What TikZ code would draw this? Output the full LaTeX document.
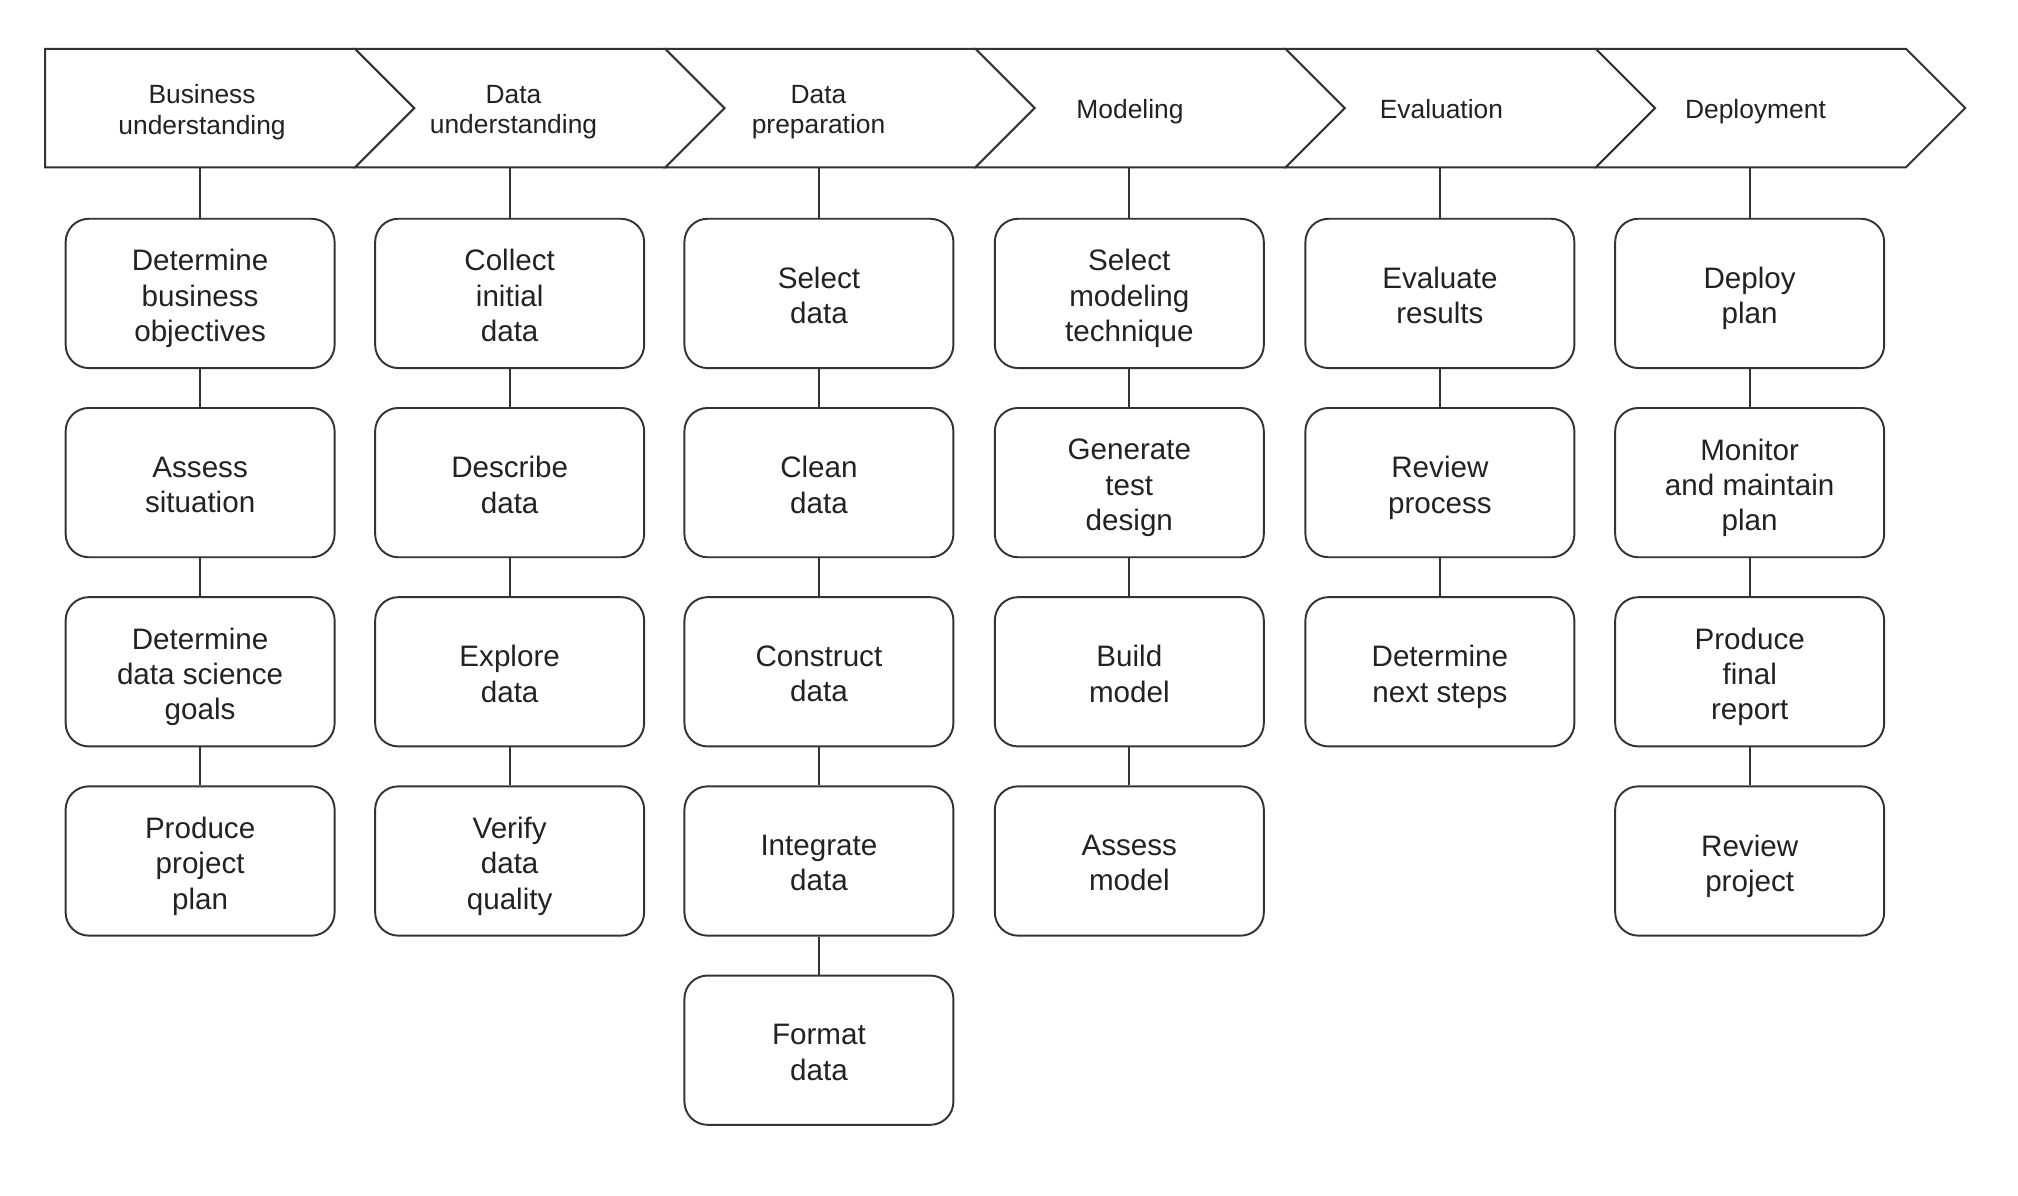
\documentclass[tikz,border=0pt]{standalone}
\usepackage{fontspec}
\setmainfont{Liberation Sans}
\definecolor{lc}{HTML}{333333}
\definecolor{tc}{HTML}{222222}
\tikzset{
  stage/.style={draw=lc, line width=0.75pt, fill=white, line join=miter},
  stagelabel/.style={align=center, font=\fontsize{10.25pt}{12pt}\selectfont, text=tc, inner sep=0pt, text depth=0pt, yshift=-0.5pt},
  task/.style={draw=lc, line width=0.75pt, rounded corners=9pt, minimum width=104.5pt, minimum height=58pt, align=center, font=\fontsize{11.5pt}{13.75pt}\selectfont, text=tc, inner sep=0pt},
  tasktext/.style={align=center, font=\fontsize{11.5pt}{13.75pt}\selectfont, text=tc, inner sep=0pt, text depth=0pt, yshift=-0.8pt},
  link/.style={draw=lc, line width=0.75pt},
}
\begin{document}
\begin{tikzpicture}[x=0.5pt,y=-0.5pt]
\useasboundingbox (0,0) rectangle (1568,929);
% stage band
\draw[stage] (35,38) -- (276,38) -- (322,84) -- (276,130) -- (35,130) -- cycle;
\draw[stage] (276,38) -- (517,38) -- (563,84) -- (517,130) -- (276,130) -- (322,84) -- cycle;
\draw[stage] (517,38) -- (758,38) -- (804,84) -- (758,130) -- (517,130) -- (563,84) -- cycle;
\draw[stage] (758,38) -- (999,38) -- (1045,84) -- (999,130) -- (758,130) -- (804,84) -- cycle;
\draw[stage] (999,38) -- (1240,38) -- (1286,84) -- (1240,130) -- (999,130) -- (1045,84) -- cycle;
\draw[stage] (1240,38) -- (1481,38) -- (1527,84) -- (1481,130) -- (1240,130) -- (1286,84) -- cycle;
\node[stagelabel] (s1) at (157,84) {Business\\understanding};
\node[stagelabel] (s2) at (399,84) {Data\\understanding};
\node[stagelabel] (s3) at (636,84) {Data\\preparation};
\node[stagelabel] (s4) at (878,84) {Modeling};
\node[stagelabel] (s5) at (1120,84) {Evaluation};
\node[stagelabel] (s6) at (1364,84) {Deployment};
\coordinate (s1b) at (155.5,130);
\coordinate (s2b) at (396,130);
\coordinate (s3b) at (636.3,130);
\coordinate (s4b) at (877.5,130);
\coordinate (s5b) at (1118.8,130);
\coordinate (s6b) at (1359.5,130);
% column 1
\node[task] (b1) at (155.5,228) {};
\node[task] (b2) at (155.5,375) {};
\node[task] (b3) at (155.5,522) {};
\node[task] (b4) at (155.5,669) {};
% column 2
\node[task] (u1) at (396,228) {};
\node[task] (u2) at (396,375) {};
\node[task] (u3) at (396,522) {};
\node[task] (u4) at (396,669) {};
% column 3
\node[task] (p1) at (636.3,228) {};
\node[task] (p2) at (636.3,375) {};
\node[task] (p3) at (636.3,522) {};
\node[task] (p4) at (636.3,669) {};
\node[task] (p5) at (636.3,816) {};
% column 4
\node[task] (m1) at (877.5,228) {};
\node[task] (m2) at (877.5,375) {};
\node[task] (m3) at (877.5,522) {};
\node[task] (m4) at (877.5,669) {};
% column 5
\node[task] (e1) at (1118.8,228) {};
\node[task] (e2) at (1118.8,375) {};
\node[task] (e3) at (1118.8,522) {};
% column 6
\node[task] (d1) at (1359.5,228) {};
\node[task] (d2) at (1359.5,375) {};
\node[task] (d3) at (1359.5,522) {};
\node[task] (d4) at (1359.5,669) {};
% texts
\node[tasktext] (b1t) at (b1) {Determine\\business\\objectives};
\node[tasktext] (b2t) at (b2) {Assess\\situation};
\node[tasktext] (b3t) at (b3) {Determine\\data science\\goals};
\node[tasktext] (b4t) at (b4) {Produce\\project\\plan};
\node[tasktext] (u1t) at (u1) {Collect\\initial\\data};
\node[tasktext] (u2t) at (u2) {Describe\\data};
\node[tasktext] (u3t) at (u3) {Explore\\data};
\node[tasktext] (u4t) at (u4) {Verify\\data\\quality};
\node[tasktext] (p1t) at (p1) {Select\\data};
\node[tasktext] (p2t) at (p2) {Clean\\data};
\node[tasktext] (p3t) at (p3) {Construct\\data};
\node[tasktext] (p4t) at (p4) {Integrate\\data};
\node[tasktext] (p5t) at (p5) {Format\\data};
\node[tasktext] (m1t) at (m1) {Select\\modeling\\technique};
\node[tasktext] (m2t) at (m2) {Generate\\test\\design};
\node[tasktext] (m3t) at (m3) {Build\\model};
\node[tasktext] (m4t) at (m4) {Assess\\model};
\node[tasktext] (e1t) at (e1) {Evaluate\\results};
\node[tasktext] (e2t) at (e2) {Review\\process};
\node[tasktext] (e3t) at (e3) {Determine\\next steps};
\node[tasktext] (d1t) at (d1) {Deploy\\plan};
\node[tasktext] (d2t) at (d2) {Monitor\\and maintain\\plan};
\node[tasktext] (d3t) at (d3) {Produce\\final\\report};
\node[tasktext] (d4t) at (d4) {Review\\project};
% connectors
\draw[link] (s1b) -- (b1.north);
\draw[link] (b1) -- (b2); \draw[link] (b2) -- (b3); \draw[link] (b3) -- (b4);
\draw[link] (s2b) -- (u1.north);
\draw[link] (u1) -- (u2); \draw[link] (u2) -- (u3); \draw[link] (u3) -- (u4);
\draw[link] (s3b) -- (p1.north);
\draw[link] (p1) -- (p2); \draw[link] (p2) -- (p3); \draw[link] (p3) -- (p4); \draw[link] (p4) -- (p5);
\draw[link] (s4b) -- (m1.north);
\draw[link] (m1) -- (m2); \draw[link] (m2) -- (m3); \draw[link] (m3) -- (m4);
\draw[link] (s5b) -- (e1.north);
\draw[link] (e1) -- (e2); \draw[link] (e2) -- (e3);
\draw[link] (s6b) -- (d1.north);
\draw[link] (d1) -- (d2); \draw[link] (d2) -- (d3); \draw[link] (d3) -- (d4);
\end{tikzpicture}
\end{document}
